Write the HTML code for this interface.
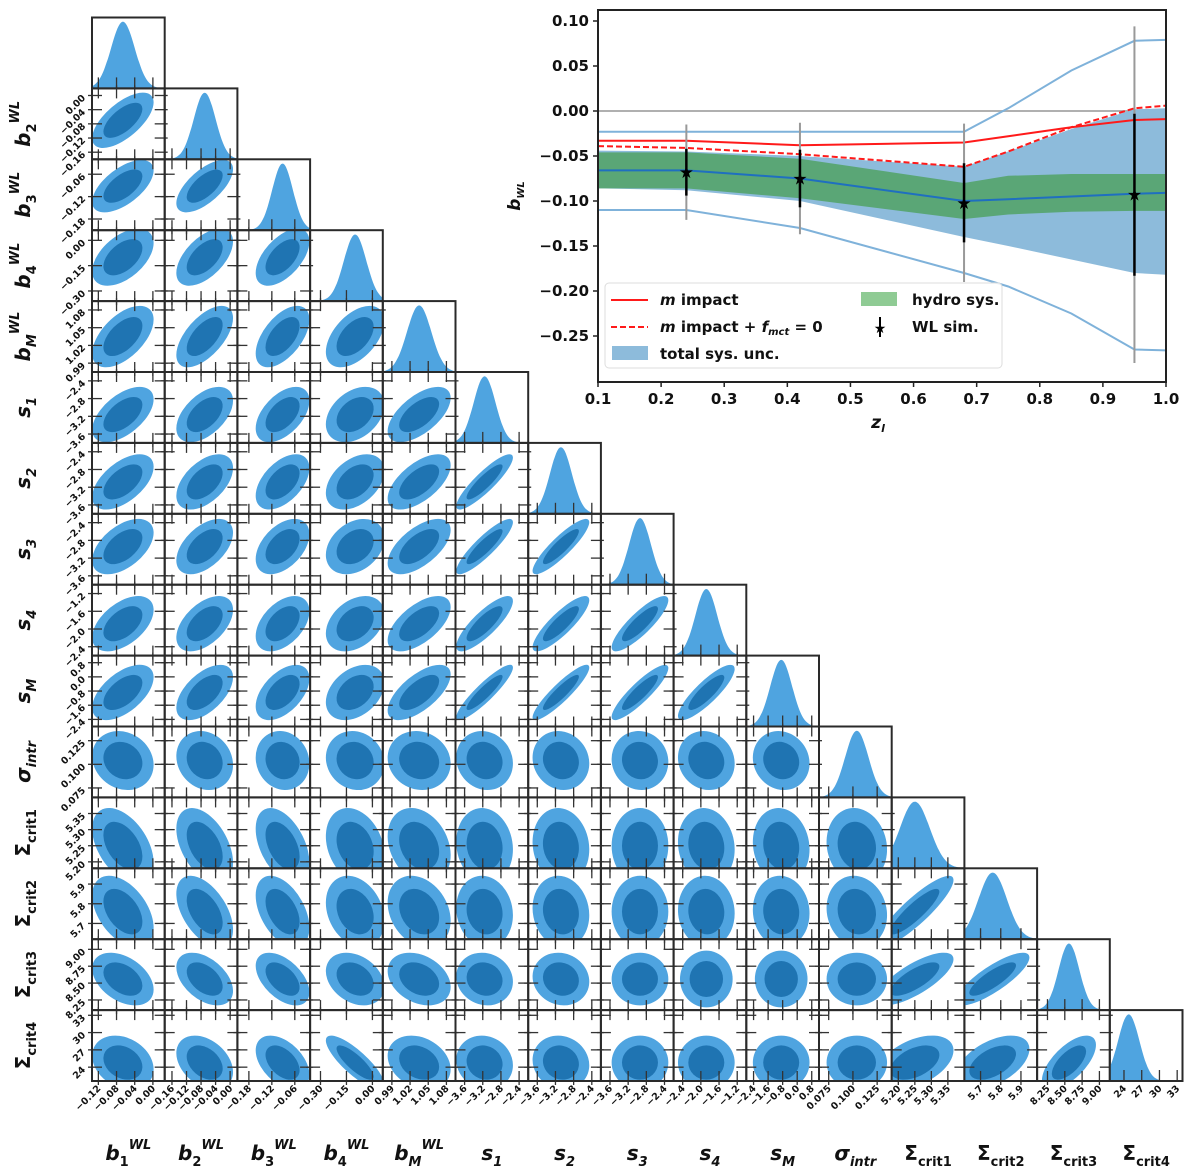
<!DOCTYPE html>
<html><head><meta charset="utf-8">
<style>
html,body{margin:0;padding:0;background:#fff;}
svg{display:block;font-family:"DejaVu Sans","Liberation Sans",sans-serif;}
</style></head>
<body>
<svg id="fig" width="1200" height="1170" viewBox="0 0 1200 1170" xmlns="http://www.w3.org/2000/svg">
<g id="corner"></g>
<g id="inset"></g>
</svg>
<script>
// ---------- corner plot data ----------
const paramNames = ["b1","b2","b3","b4","bM","s1","s2","s3","s4","sM","sigma","Sc1","Sc2","Sc3","Sc4"];
const rangeMin = [-0.134,-0.18,-0.21,-0.36,0.975,-3.8,-3.8,-3.8,-2.6,-2.8,0.065,5.18,5.62,8.10,21.6];
const rangeMax = [0.026,0.02,-0.02,0.06,1.095,-2.2,-2.2,-2.2,-1.0,1.2,0.140,5.40,5.98,9.15,33.9];
const postMean = [-0.066,-0.070,-0.092,-0.100,1.035,-3.16,-3.08,-2.94,-1.88,-0.88,0.104,5.25,5.76,8.56,24.8];
const postSd = [0.026,0.030,0.027,0.065,0.020,0.24,0.24,0.24,0.24,0.6,0.012,0.045,0.07,0.15,1.8];
const tickVals = [
 [-0.12,-0.08,-0.04,0.00],[-0.16,-0.12,-0.08,-0.04,0.00],[-0.18,-0.12,-0.06],[-0.30,-0.15,0.00],
 [0.99,1.02,1.05,1.08],[-3.6,-3.2,-2.8,-2.4],[-3.6,-3.2,-2.8,-2.4],[-3.6,-3.2,-2.8,-2.4],
 [-2.4,-2.0,-1.6,-1.2],[-2.4,-1.6,-0.8,0.0,0.8],[0.075,0.100,0.125],[5.20,5.25,5.30,5.35],
 [5.7,5.8,5.9],[8.25,8.50,8.75,9.00],[24,27,30,33]];
const tickText = [
 ["\u22120.12","\u22120.08","\u22120.04","0.00"],["\u22120.16","\u22120.12","\u22120.08","\u22120.04","0.00"],
 ["\u22120.18","\u22120.12","\u22120.06"],["\u22120.30","\u22120.15","0.00"],["0.99","1.02","1.05","1.08"],
 ["\u22123.6","\u22123.2","\u22122.8","\u22122.4"],["\u22123.6","\u22123.2","\u22122.8","\u22122.4"],
 ["\u22123.6","\u22123.2","\u22122.8","\u22122.4"],["\u22122.4","\u22122.0","\u22121.6","\u22121.2"],
 ["\u22122.4","\u22121.6","\u22120.8","0.0","0.8"],["0.075","0.100","0.125"],["5.20","5.25","5.30","5.35"],
 ["5.7","5.8","5.9"],["8.25","8.50","8.75","9.00"],["24","27","30","33"]];
// lower-triangle correlations, row i has i entries
const corrRows = [
 [],
 [0.65],
 [0.6,0.65],
 [0.5,0.55,0.55],
 [0.55,0.6,0.55,0.5],
 [0.55,0.5,0.5,0.35,0.6],
 [0.55,0.5,0.5,0.4,0.6,0.88],
 [0.5,0.5,0.45,0.3,0.6,0.88,0.88],
 [0.5,0.5,0.45,0.35,0.6,0.82,0.85,0.85],
 [0.55,0.55,0.5,0.35,0.65,0.9,0.9,0.88,0.85],
 [-0.15,-0.15,-0.1,-0.1,-0.1,-0.1,-0.1,-0.05,-0.1,-0.1],
 [-0.45,-0.45,-0.45,-0.25,-0.25,-0.1,-0.1,0,-0.1,-0.1,-0.1],
 [-0.45,-0.5,-0.45,-0.25,-0.25,-0.1,-0.1,0,-0.05,-0.05,-0.1,0.88],
 [-0.4,-0.45,-0.5,-0.3,-0.3,-0.1,-0.1,0,0,0,0,0.75,0.82],
 [-0.25,-0.35,-0.45,-0.82,-0.25,-0.1,-0.1,0,0,0,0,0.45,0.5,0.65]];

// ---------- inset data ----------
const zKnots = [0.1,0.24,0.42,0.68,0.75,0.85,0.95,1.0];
const centerLine = [-0.066,-0.066,-0.075,-0.100,-0.098,-0.095,-0.092,-0.091];
const hydroLo = [-0.086,-0.086,-0.097,-0.120,-0.115,-0.112,-0.111,-0.111];
const hydroHi = [-0.046,-0.046,-0.053,-0.080,-0.072,-0.070,-0.070,-0.070];
const totalHi = [-0.044,-0.045,-0.050,-0.062,-0.045,-0.020,0.002,0.003];
const totalLo = [-0.086,-0.088,-0.100,-0.140,-0.150,-0.165,-0.180,-0.182];
const outerHi = [-0.023,-0.023,-0.023,-0.023,0.003,0.045,0.078,0.079];
const outerLo = [-0.110,-0.110,-0.130,-0.180,-0.195,-0.225,-0.265,-0.266];
const redSolid = [-0.033,-0.033,-0.038,-0.035,-0.028,-0.018,-0.010,-0.009];
const redDash = [-0.039,-0.041,-0.048,-0.062,-0.045,-0.018,0.003,0.006];
const simZ = [0.24,0.42,0.68,0.95];
const simB = [-0.068,-0.075,-0.102,-0.093];
const simErrStat = [0.026,0.032,0.044,0.09];
const simErrSys = [0.053,0.062,0.088,0.187];
const insetXTicks = [0.1,0.2,0.3,0.4,0.5,0.6,0.7,0.8,0.9,1.0];
const insetYTicks = [0.10,0.05,0.00,-0.05,-0.10,-0.15,-0.20,-0.25];

const NS="http://www.w3.org/2000/svg";
function mk(tag,attrs,parent){const e=document.createElementNS(NS,tag);for(const k in attrs)e.setAttribute(k,attrs[k]);if(parent)parent.appendChild(e);return e;}

// ---------- corner ----------
const corner=document.getElementById('corner');
const X0=92, CW=72.7, Y0=17.5, RH=70.9, N=15;
const LIGHT="#4fa4e0", DARK="#1f74b2";
function fx(j,v){return X0+j*CW+(v-rangeMin[j])/(rangeMax[j]-rangeMin[j])*CW;}
function fy(i,v){return Y0+(i+1)*RH-(v-rangeMin[i])/(rangeMax[i]-rangeMin[i])*RH;}

for(let i=0;i<N;i++){
 for(let j=0;j<=i;j++){
  const px=X0+j*CW, py=Y0+i*RH;
  const g=mk('g',{},corner);
  
  
  const cid='clip'+i+'_'+j;
  const cp=mk('clipPath',{id:cid},g);mk('rect',{x:px,y:py,width:CW,height:RH},cp);
  const inner=mk('g',{'clip-path':'url(#'+cid+')'},g);
  if(i===j){
   const mu=postMean[i], sd=postSd[i];
   let d='M'+px+','+(py+RH);
   for(let k=0;k<=60;k++){
    const v=rangeMin[i]+(rangeMax[i]-rangeMin[i])*k/60;
    const h=Math.exp(-0.5*((v-mu)/sd)**2);
    d+=' L'+fx(j,v).toFixed(1)+','+(py+RH-h*RH*0.94).toFixed(1);
   }
   d+=' L'+(px+CW)+','+(py+RH)+' Z';
   const p=mk('path',{d:d,fill:LIGHT},inner);
   
   
   tickVals[j].forEach(t=>{mk('line',{x1:fx(j,t),x2:fx(j,t),y1:py+RH,y2:py+RH-11,stroke:'#333','stroke-width':1.3},g);});
  } else {
   const r=corrRows[i][j];
   const sx=postSd[j]/(rangeMax[j]-rangeMin[j])*CW, sy=postSd[i]/(rangeMax[i]-rangeMin[i])*RH;
   const a=sx*sx, b=-r*sx*sy, c=sy*sy;
   const tr=(a+c)/2, det=Math.sqrt(((a-c)/2)**2+b*b);
   const l1=tr+det, l2=Math.max(tr-det,1e-3);
   const ang=Math.atan2(l1-a,b)*180/Math.PI;
   const cx=fx(j,postMean[j]), cy=fy(i,postMean[i]);
   [[2.6,LIGHT,'outer-contour'],[1.65,DARK,'inner-contour']].forEach(([k,col,nm])=>{
    const e=mk('ellipse',{cx:cx,cy:cy,rx:k*Math.sqrt(l1),ry:k*Math.sqrt(l2),fill:col,transform:'rotate('+(isFinite(ang)?ang:0)+' '+cx+' '+cy+')'},inner);
    
    
   });
   tickVals[j].forEach(t=>{const x=fx(j,t);
    mk('line',{x1:x,x2:x,y1:py+RH+4,y2:py+RH-10,stroke:'#333','stroke-width':1.3},g);
    mk('line',{x1:x,x2:x,y1:py-3,y2:py+10,stroke:'#333','stroke-width':1.3},g);});
   tickVals[i].forEach(t=>{const y=fy(i,t);
    mk('line',{x1:px-4,x2:px+10,y1:y,y2:y,stroke:'#333','stroke-width':1.3},g);
    mk('line',{x1:px+CW+3,x2:px+CW-10,y1:y,y2:y,stroke:'#333','stroke-width':1.3},g);});
  }
  mk('rect',{x:px,y:py,width:CW,height:RH,fill:'none',stroke:'#2a2a2a','stroke-width':2},g);
 }
}
for(let j=0;j<N;j++){
 tickVals[j].forEach((t,k)=>{
  const x=fx(j,t), y=Y0+N*RH+8;
  const tx=mk('text',{x:x+3,y:y,'font-size':9.5,'font-weight':'bold','text-anchor':'end',transform:'rotate(-45 '+(x+3)+' '+y+')',fill:'#111'},corner);
  tx.textContent=tickText[j][k];
  
  
 });
}
for(let i=1;i<N;i++){
 tickVals[i].forEach((t,k)=>{
  const y=fy(i,t), x=X0-6;
  const tx=mk('text',{x:x,y:y+3,'font-size':9.5,'font-weight':'bold','text-anchor':'end',transform:'rotate(-45 '+x+' '+(y+3)+')',fill:'#111'},corner);
  tx.textContent=tickText[i][k];
  
  
 });
}
const labelDefs=[
 ['b','1','WL'],['b','2','WL'],['b','3','WL'],['b','4','WL'],['b','M','WL'],
 ['s','1',''],['s','2',''],['s','3',''],['s','4',''],['s','M',''],['\u03c3','intr',''],
 ['\u03a3','crit1',''],['\u03a3','crit2',''],['\u03a3','crit3',''],['\u03a3','crit4','']];
function nameLabel(idx,x,y,rot){
 const [base,sub,sup]=labelDefs[idx];
 const t=mk('text',{x:x,y:y,'font-size':20,'font-weight':'bold','text-anchor':'middle',fill:'#111',transform:rot?'rotate(-90 '+x+' '+y+')':''},corner);
 const t1=mk('tspan',{'font-style':base==='\u03a3'?'normal':'italic'},t);t1.textContent=base;
 const t2=mk('tspan',{'font-size':13,dy:6,'font-style':(base==='\u03a3'||(base==='b'&&/[0-9]/.test(sub)))?'normal':'italic'},t);t2.textContent=sub;
 if(sup){const t3=mk('tspan',{'font-size':13,dy:-17,'font-style':'italic'},t);t3.textContent=sup;}
 return t;
}
for(let j=0;j<N;j++){
 const t=nameLabel(j,X0+j*CW+CW/2,1160,false);
 
 
}
for(let i=1;i<N;i++){
 const t=nameLabel(i,30,Y0+i*RH+RH/2,true);
 
 
}

// ---------- inset ----------
const inset=document.getElementById('inset');
const L=598,R=1166,T=10,B=382;
function ix(z){return L+(z-0.1)/0.9*(R-L);}
function iy(v){return 111-v*900;}
const icp=mk('clipPath',{id:'insetclip'},inset);mk('rect',{x:L,y:T,width:R-L,height:B-T},icp);
const ig=mk('g',{'clip-path':'url(#insetclip)'},inset);
function bandPath(lo,hi){let d='';zKnots.forEach((z,k)=>{d+=(k?'L':'M')+ix(z)+','+iy(hi[k])+' ';});for(let k=zKnots.length-1;k>=0;k--)d+='L'+ix(zKnots[k])+','+iy(lo[k])+' ';return d+'Z';}
function linePath(arr){return zKnots.map((z,k)=>(k?'L':'M')+ix(z)+','+iy(arr[k])).join(' ');}
let e;
e=mk('line',{x1:L,x2:R,y1:iy(0),y2:iy(0),stroke:'#b0b0b0','stroke-width':2},ig);

e=mk('path',{d:bandPath(totalLo,totalHi),fill:'#8dbbdb'},ig);

e=mk('path',{d:bandPath(hydroLo,hydroHi),fill:'#5aa676'},ig);

e=mk('path',{d:linePath(outerHi),fill:'none',stroke:'#7fb2da','stroke-width':2},ig);

e=mk('path',{d:linePath(outerLo),fill:'none',stroke:'#7fb2da','stroke-width':2},ig);

e=mk('path',{d:linePath(centerLine),fill:'none',stroke:'#1f6fc0','stroke-width':2},ig);

e=mk('path',{d:linePath(redSolid),fill:'none',stroke:'#ff1a1a','stroke-width':2},ig);

e=mk('path',{d:linePath(redDash),fill:'none',stroke:'#ff1a1a','stroke-width':2,'stroke-dasharray':'6,3'},ig);

simZ.forEach((z,k)=>{
 const x=ix(z);
 const l1=mk('line',{x1:x,x2:x,y1:iy(simB[k]+simErrSys[k]),y2:iy(simB[k]-simErrSys[k]),stroke:'#999','stroke-width':2},ig);
 
 const l2=mk('line',{x1:x,x2:x,y1:iy(simB[k]+simErrStat[k]),y2:iy(simB[k]-simErrStat[k]),stroke:'#000','stroke-width':2.5},ig);
 
 const s=mk('text',{x:x,y:iy(simB[k])+6,'font-size':17,'text-anchor':'middle',fill:'#000'},ig);
 s.textContent='\u2605';
 
});
e=mk('rect',{x:L,y:T,width:R-L,height:B-T,fill:'none',stroke:'#222','stroke-width':2},inset);

insetXTicks.forEach(t=>{const x=ix(t);
 mk('line',{x1:x,x2:x,y1:B,y2:B+5,stroke:'#222','stroke-width':1.5},inset);
 const tx=mk('text',{x:x,y:B+22,'font-size':15,'font-weight':'bold','text-anchor':'middle',fill:'#111'},inset);
 tx.textContent=t.toFixed(1);
 
});
insetYTicks.forEach(t=>{const y=iy(t);
 mk('line',{x1:L-5,x2:L,y1:y,y2:y,stroke:'#222','stroke-width':1.5},inset);
 const tx=mk('text',{x:L-9,y:y+5,'font-size':15,'font-weight':'bold','text-anchor':'end',fill:'#111'},inset);
 tx.textContent=(t<0?'\u2212':'')+Math.abs(t).toFixed(2);
 
});

// inset titles and legend
let t;
t=mk('text',{x:878,y:428,'font-size':17,'font-style':'italic','font-weight':'bold','text-anchor':'middle',fill:'#111'},inset);
t.innerHTML='z<tspan font-size="11" dy="4">l</tspan>';


t=mk('text',{x:520,y:196,'font-size':17,'font-style':'italic','font-weight':'bold','text-anchor':'middle',fill:'#111',transform:'rotate(-90 520 196)'},inset);
t.innerHTML='b<tspan font-size="10" dy="4">WL</tspan>';


const lg=mk('g',{},inset);


mk('rect',{x:605,y:283,width:397,height:85,rx:4,fill:'#fff','fill-opacity':0.85,stroke:'#ddd','stroke-width':1},lg);
mk('line',{x1:611,x2:648,y1:300,y2:300,stroke:'#ff1a1a','stroke-width':2},lg);
mk('line',{x1:611,x2:648,y1:327,y2:327,stroke:'#ff1a1a','stroke-width':2,'stroke-dasharray':'6,3'},lg);
mk('rect',{x:612,y:346,width:36,height:14,fill:'#8dbbdb'},lg);
mk('rect',{x:861,y:292,width:36,height:14,fill:'#8fcb94'},lg);
mk('line',{x1:880,x2:880,y1:317,y2:337,stroke:'#000','stroke-width':2},lg);
t=mk('text',{x:880,y:333,'font-size':14,'text-anchor':'middle'},lg);t.textContent='\u2605';
const entries=[[660,305,'<tspan font-style="italic">m</tspan> impact','legend-entry-m-impact'],
 [660,332,'<tspan font-style="italic">m</tspan> impact + <tspan font-style="italic">f</tspan><tspan font-style="italic" font-size="10" dy="3">mct</tspan><tspan dy="-3"> = 0</tspan>','legend-entry-m-impact-fmct'],
 [660,359,'total sys. unc.','legend-entry-total-sys'],
 [912,305,'hydro sys.','legend-entry-hydro-sys'],
 [912,332,'WL sim.','legend-entry-wl-sim']];
entries.forEach(([x,y,h,n])=>{const tt=mk('text',{x:x,y:y,'font-size':15,'font-weight':'bold',fill:'#111'},lg);tt.innerHTML=h;
 
 });
</script>
</body></html>
